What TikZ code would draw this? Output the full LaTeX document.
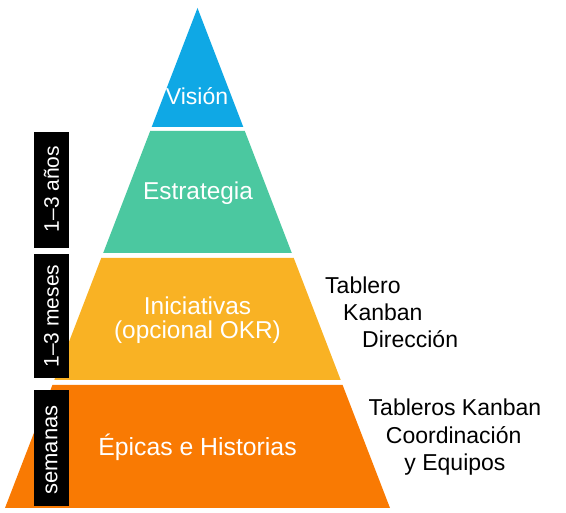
\documentclass[tikz,border=0pt]{standalone}
\usepackage{fontspec}
\setmainfont{Liberation Sans}
\definecolor{cvision}{HTML}{0FA8E5}
\definecolor{cestr}{HTML}{4BC8A0}
\definecolor{cinic}{HTML}{F9B224}
\definecolor{cepic}{HTML}{F97A03}
\tikzset{
  level/.style={fill=#1, draw=none},
  lbl/.style={text=white, inner sep=0pt, font=\fontsize{24.4}{24.4}\selectfont},
  side/.style={text=black, inner sep=0pt, font=\fontsize{23}{27}\selectfont},
  timebox/.style={fill=black, draw=none},
  timetxt/.style={text=white, inner sep=0pt, rotate=90, font=\fontsize{21}{21}\selectfont}
}
\begin{document}
\begin{tikzpicture}[x=1pt,y=1pt]
\useasboundingbox (0,0) rectangle (566,513);
% pyramid levels
\path[level=cvision] (197.5,505) -- (243.3,386) -- (151.7,386) -- cycle;
\path[level=cestr] (150.2,382) -- (244.8,382) -- (291.8,260) -- (103.2,260) -- cycle;
\path[level=cinic] (101.25,255) -- (293.75,255) -- (340.7,133) -- (54.3,133) -- cycle;
\path[level=cepic] (52.4,128) -- (342.6,128) -- (390,5) -- (5,5) -- cycle;
% level labels
\node[lbl, anchor=base, font=\fontsize{23}{23}\selectfont] (vision) at (197,408.7) {Visión};
\node[lbl, anchor=base] (estr) at (198,313.7) {Estrategia};
\node[lbl, anchor=base] (inic1) at (197.5,198.7) {Iniciativas};
\node[lbl, anchor=base] (inic2) at (197.5,174.7) {(opcional OKR)};
\node[lbl, anchor=base, font=\fontsize{24.8}{24.8}\selectfont] (epic) at (197.5,57) {Épicas e Historias};
% time boxes
\path[timebox] (34,265) rectangle (69,381);
\path[timebox] (34,135) rectangle (69,259);
\path[timebox] (34,7) rectangle (69,123);
\node[timetxt] (t1) at (51.5,324) {1–3 años};
\node[timetxt] (t2) at (51.5,197) {1–3 meses};
\node[timetxt, font=\fontsize{22}{22}\selectfont] (t3) at (51.5,63) {semanas};
% side texts
\node[side, anchor=base west] (s1) at (325,219.7) {Tablero};
\node[side, anchor=base west] (s2) at (343,192) {Kanban};
\node[side, anchor=base west] (s3) at (362,165.3) {Dirección};
\node[side, anchor=base] (s4) at (455,97) {Tableros Kanban};
\node[side, anchor=base] (s5) at (453.7,69) {Coordinación};
\node[side, anchor=base] (s6) at (455,42.3) {y Equipos};
\end{tikzpicture}
\end{document}
